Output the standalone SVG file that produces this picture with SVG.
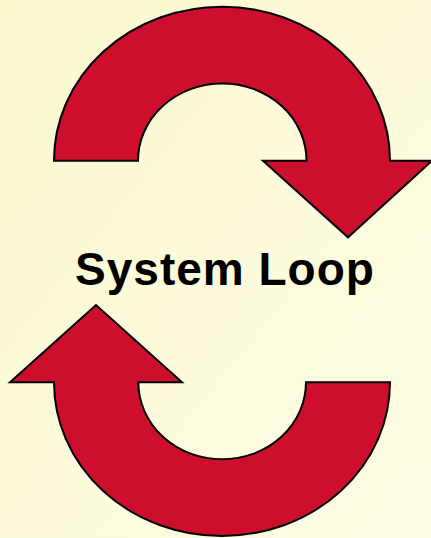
<svg xmlns="http://www.w3.org/2000/svg" width="431" height="538" viewBox="0 0 431 538">
  <defs>
    <linearGradient id="bg" x1="0" y1="0" x2="1" y2="1">
      <stop offset="0" stop-color="#FBF8CE"/>
      <stop offset="1" stop-color="#FDFDE6"/>
    </linearGradient>
  </defs>
  <style>
    .arrow { fill: #CE0E2D; stroke: #000; stroke-width: 2; stroke-linejoin: miter; }
    .label { font-family: "Liberation Sans", Arial, sans-serif; font-weight: bold; font-size: 46px; letter-spacing: 1px; fill: #000; }
  </style>
  <rect x="0" y="0" width="431" height="538" fill="url(#bg)"/>
  <g id="arrow-top">
    <path class="arrow" d="M 54,160.7 A 168 154 0 0 1 390,160.7 L 432,160.7 L 348,237.3 L 263,160.7 L 306.5,160.7 A 84.25 77.3 0 0 0 138,160.7 Z"/>
  </g>
  <g id="arrow-bottom">
    <path class="arrow" d="M 390,382.3 A 168 153.7 0 0 1 54,382.3 L 10,382.3 L 96,305 L 182,382.3 L 138.3,382.3 A 83.85 77 0 0 0 306,382.3 Z"/>
  </g>
  <g id="label">
    <text class="label" x="225" y="285" text-anchor="middle">System Loop</text>
  </g>
</svg>
